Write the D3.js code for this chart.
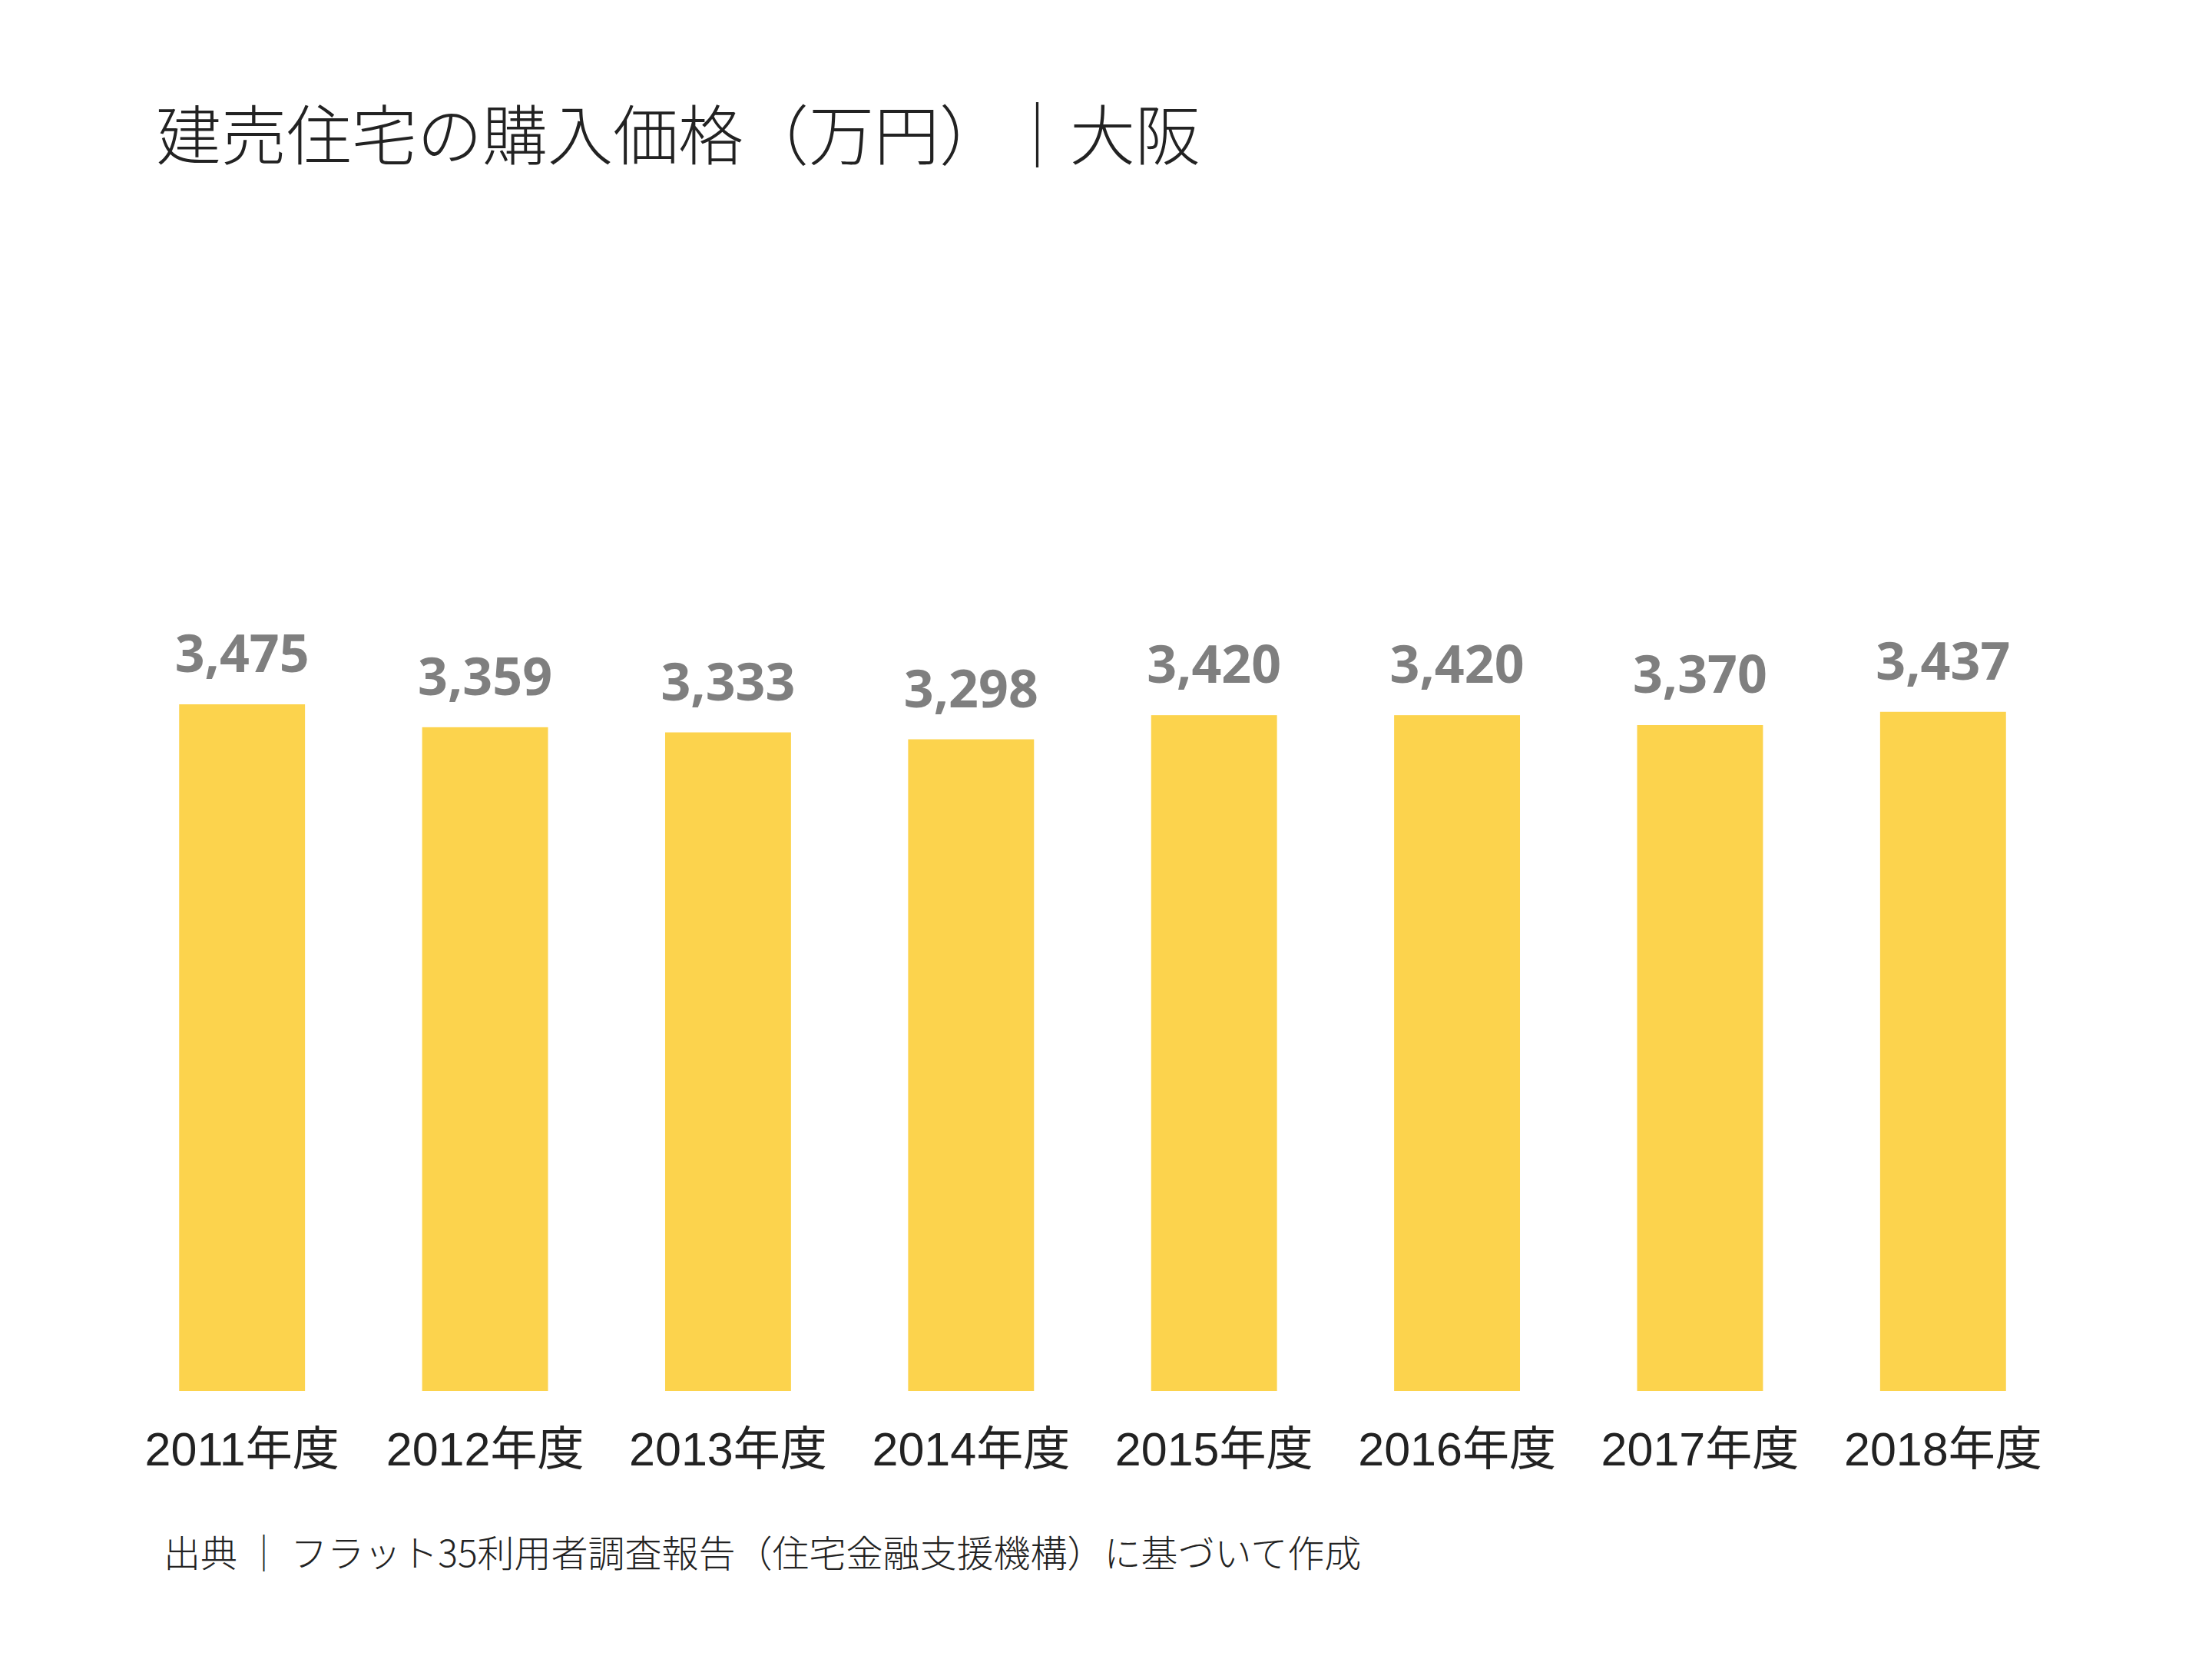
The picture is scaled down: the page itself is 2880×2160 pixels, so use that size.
<!DOCTYPE html>
<html><head><meta charset="utf-8">
<script src="https://cdn.jsdelivr.net/npm/d3@7"></script>
<style>body{margin:0;background:#fff}</style></head>
<body><svg id="c" width="2880" height="2160"></svg>
<script>
const categories=["2011年度","2012年度","2013年度","2014年度","2015年度","2016年度","2017年度","2018年度"];
const values=[3475,3359,3333,3298,3420,3420,3370,3437];
const title="建売住宅の購入価格（万円）｜大阪";
const source="出典 ｜ フラット35利用者調査報告（住宅金融支援機構）に基づいて作成";

const svg=d3.select("#c");
const x=d3.scaleBand().domain(categories).range([157,2688]).paddingInner(0.482).paddingOuter(0.241);
const y=d3.scaleLinear().domain([0,3475]).range([1811,917]);

svg.append("text").attr("x",203).attr("y",208).attr("font-family","'Noto Sans CJK JP'").attr("font-weight",300)
  .attr("font-size",85).attr("fill","#222").text(title);

svg.selectAll("rect.b").data(values).join("rect").attr("class","b")
  .attr("x",(d,i)=>x(categories[i])).attr("width",x.bandwidth())
  .attr("y",d=>y(d)).attr("height",d=>y(0)-y(d)).attr("fill","#FCD34D");

svg.selectAll("text.v").data(values).join("text").attr("class","v")
  .attr("x",(d,i)=>x(categories[i])+x.bandwidth()/2).attr("y",d=>y(d)-42)
  .attr("text-anchor","middle").attr("font-family","'Open Sans'").attr("font-weight",700)
  .attr("font-size",68).attr("fill","#7f7f7f").text(d3.format(","));

const ax=svg.append("g").attr("transform","translate(0,1811)").call(d3.axisBottom(x).tickSize(0).tickPadding(54));
ax.select(".domain").remove();
ax.selectAll("text").attr("font-family","'Liberation Sans','Noto Sans CJK JP'").attr("font-size",61).attr("fill","#222");

svg.append("text").attr("x",213).attr("y",2040).attr("font-family","'Noto Sans CJK JP'").attr("font-weight",300)
  .attr("font-size",48).attr("fill","#222").text(source);
</script></body></html>
